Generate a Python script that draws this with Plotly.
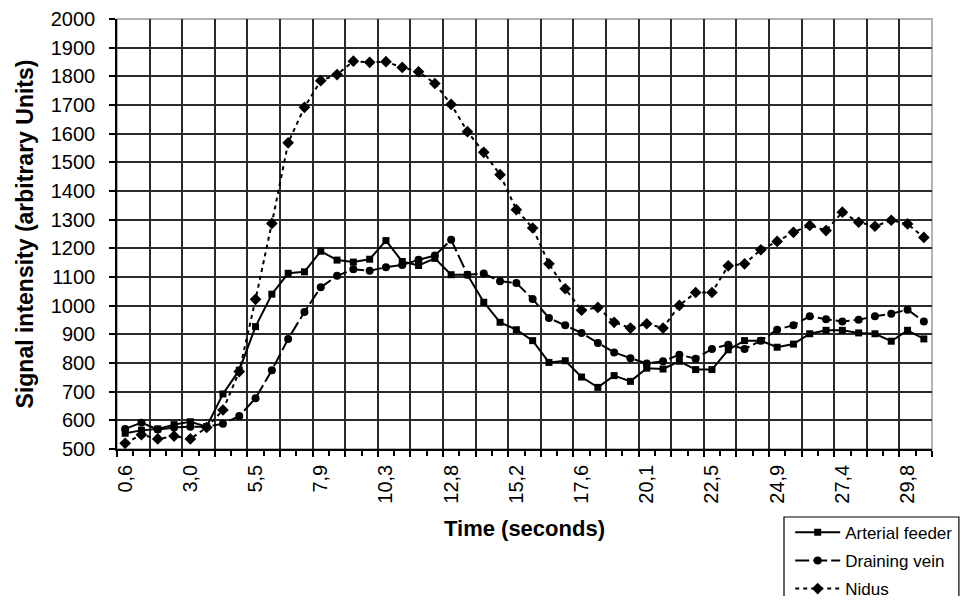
import plotly.graph_objects as go

# category index of each acquisition (50 frames)
frames = list(range(50))

# tick labels shown every 4th frame
tick_frames = [0, 4, 8, 12, 16, 20, 24, 28, 32, 36, 40, 44, 48]
tick_labels = ["0,6", "3,0", "5,5", "7,9", "10,3", "12,8", "15,2",
               "17,6", "20,1", "22,5", "24,9", "27,4", "29,8"]

arterial_feeder = [555, 565, 570, 585, 595, 578, 692, 775, 927, 1040,
                   1113, 1118, 1190, 1159, 1152, 1162, 1227, 1154, 1140, 1165,
                   1108, 1108, 1012, 942, 916, 878, 802, 808, 751, 715,
                   756, 736, 782, 779, 806, 777, 777, 846, 878, 878,
                   855, 866, 902, 914, 914, 905, 902, 876, 914, 884]

draining_vein = [570, 592, 568, 575, 578, 578, 588, 615, 677, 775,
                 884, 978, 1064, 1104, 1127, 1122, 1134, 1142, 1160, 1175,
                 1230, 1108, 1112, 1085, 1079, 1023, 957, 932, 905, 870,
                 837, 817, 798, 806, 829, 815, 849, 864, 849, 878,
                 916, 932, 963, 953, 945, 951, 963, 972, 986, 945]

nidus = [520, 550, 535, 545, 535, 575, 636, 770, 1022, 1287,
         1568, 1692, 1785, 1806, 1853, 1849, 1851, 1831, 1816, 1775,
         1702, 1607, 1535, 1457, 1335, 1271, 1146, 1059, 984, 994,
         942, 922, 937, 922, 1001, 1046, 1046, 1139, 1146, 1195,
         1224, 1256, 1280, 1262, 1326, 1291, 1277, 1298, 1285, 1238]

FONT = "Liberation Sans, Arial, sans-serif"

fig = go.Figure()
fig.add_trace(go.Scatter(
    x=frames, y=arterial_feeder, name="Arterial feeder", mode="lines+markers",
    legendgroup="a",
    line=dict(color="black", width=2),
    marker=dict(symbol="square", size=7, color="black")))
fig.add_trace(go.Scatter(
    x=frames, y=draining_vein, name="Draining vein", mode="lines+markers",
    legendgroup="b",
    line=dict(color="black", width=2, dash="14px,4px"),
    marker=dict(symbol="circle", size=8, color="black")))
fig.add_trace(go.Scatter(
    x=frames, y=nidus, name="Nidus", mode="lines+markers",
    legendgroup="c",
    line=dict(color="black", width=2, dash="4px,4px"),
    marker=dict(symbol="diamond", size=9, color="black")))

# grid lines every 2 category boundaries, labels every 4 categories
grid_vals = [v - 0.5 for v in range(0, 51, 2)]
label_map = {f - 0.5: t for f, t in zip(tick_frames, tick_labels)}
grid_text = [label_map.get(v, "") for v in grid_vals]

# the page body adds an 8px margin on every side, so the figure is made
# 16px smaller than the window to avoid any scrolling
fig.update_layout(
    width=952, height=588,
    margin=dict(l=109, r=28, t=11, b=147, autoexpand=False),
    paper_bgcolor="white", plot_bgcolor="white",
    font=dict(family=FONT, color="black", size=20),
    showlegend=True,
    legend=dict(x=0.826, y=-0.153, xanchor="left", yanchor="top",
                borderwidth=0, bgcolor="rgba(0,0,0,0)",
                traceorder="grouped", tracegroupgap=3, itemwidth=45,
                font=dict(size=17, family=FONT)),
    xaxis=dict(
        range=[-0.5, 49.5], tickmode="array", tickvals=grid_vals, ticktext=grid_text,
        tickangle=-90, ticklabelshift=8, ticks="outside", ticklen=6, tickwidth=1.5,
        tickcolor="black", showgrid=True, gridcolor="#2b2b2b", gridwidth=1.5,
        showline=True, linecolor="black", linewidth=1.5, zeroline=False,
        automargin=False,
        minor=dict(tick0=-0.5, dtick=1, ticks="outside", ticklen=5, tickwidth=1.5,
                   tickcolor="black", showgrid=False),
        title=dict(text="<b>Time (seconds)</b>", font=dict(size=22), standoff=18),
        tickfont=dict(size=20),
    ),
    yaxis=dict(
        range=[500, 2000], dtick=100, tick0=500, ticks="outside", ticklen=6,
        tickwidth=1.5, tickcolor="black", showgrid=True, gridcolor="#2b2b2b",
        gridwidth=1.5, showline=True, linecolor="black", linewidth=1.5,
        zeroline=False, automargin=False, ticklabelstandoff=10,
        title=dict(text="<b>Signal intensity (arbitrary Units)</b>", font=dict(size=23),
                   standoff=11),
        tickfont=dict(size=20),
    ),
    shapes=[
        dict(type="rect", xref="paper", yref="paper", x0=0, y0=0, x1=1, y1=1,
             line=dict(color="#9a9a9a", width=1.5), layer="below"),
        # legend frame
        dict(type="rect", xref="paper", yref="paper", x0=0.8184, x1=1.033,
             y0=-0.42, y1=-0.1581, line=dict(color="black", width=1.2),
             fillcolor="white", layer="below"),
    ],
)

fig.write_html("out.html")
